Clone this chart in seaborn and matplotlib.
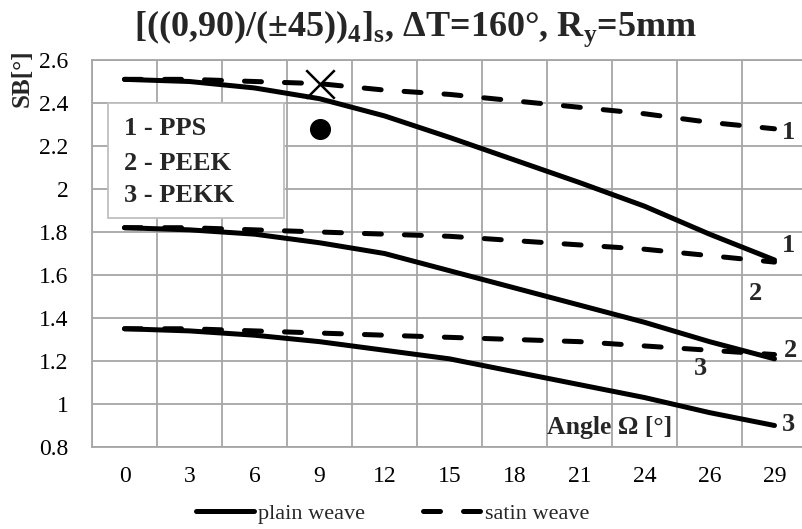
import pandas as pd
import matplotlib
matplotlib.use("Agg")
import matplotlib.pyplot as plt
import seaborn as sns
from matplotlib.lines import Line2D
from matplotlib.patches import Rectangle

# --- data ---
angles = ["0", "3", "6", "9", "12", "15", "18", "21", "24", "26", "29"]
pps_plain = [2.51, 2.50, 2.47, 2.42, 2.34, 2.24, 2.135, 2.03, 1.92, 1.79, 1.67]
pps_satin = [2.51, 2.51, 2.50, 2.49, 2.46, 2.44, 2.41, 2.38, 2.35, 2.31, 2.28]
peek_plain = [1.82, 1.81, 1.79, 1.75, 1.70, 1.62, 1.54, 1.46, 1.38, 1.29, 1.21]
peek_satin = [1.82, 1.82, 1.81, 1.80, 1.79, 1.78, 1.76, 1.74, 1.72, 1.69, 1.66]
pekk_plain = [1.35, 1.34, 1.32, 1.29, 1.25, 1.21, 1.15, 1.09, 1.03, 0.96, 0.90]
pekk_satin = [1.35, 1.35, 1.34, 1.33, 1.32, 1.31, 1.30, 1.29, 1.27, 1.25, 1.23]
materials = ["1 - PPS", "2 - PEEK", "3 - PEKK"]
weaves = ["plain weave", "satin weave"]
cross_pt = ("9", 2.49)
dot_pt = ("9", 2.28)

series = {
    ("1", "plain weave"): pps_plain, ("1", "satin weave"): pps_satin,
    ("2", "plain weave"): peek_plain, ("2", "satin weave"): peek_satin,
    ("3", "plain weave"): pekk_plain, ("3", "satin weave"): pekk_satin,
}
rows = []
for (mat, weave), vals in series.items():
    for i, (a, v) in enumerate(zip(angles, vals)):
        rows.append({"pos": i, "angle": a, "SB": v, "material": mat, "weave": weave})
df = pd.DataFrame(rows)

sns.set_theme(style="white")
plt.rcParams["font.family"] = ["Liberation Serif", "DejaVu Serif"]
plt.rcParams["mathtext.fontset"] = "custom"
plt.rcParams["mathtext.rm"] = "Liberation Serif"
plt.rcParams["mathtext.bf"] = "Liberation Serif:bold"

fig = plt.figure(figsize=(8.02, 5.29), dpi=100)
ax = fig.add_axes([92 / 802, 82 / 529, 715 / 802, 387 / 529])

LW = 3.6
dash = (3.4, 4.6)
sns.lineplot(data=df, x="pos", y="SB", hue="material", style="weave",
             palette=["black"] * 3, dashes={"plain weave": "", "satin weave": dash},
             linewidth=LW, legend=False, ax=ax, zorder=3)
for ln in ax.get_lines():
    ln.set_dash_capstyle("round")
    ln.set_solid_capstyle("round")

# markers
ax.scatter([angles.index(cross_pt[0])], [cross_pt[1]], marker="x", s=420,
           color="black", linewidths=1.8, zorder=5)
ax.scatter([angles.index(dot_pt[0])], [dot_pt[1]], marker="o", s=200,
           color="black", zorder=5)

# axes setup
gray = "#a6a6a6"
ax.set_xlim(-0.5, len(angles) - 0.5)
ax.set_ylim(0.8, 2.6)
ax.set_xticks(range(len(angles)))
ax.set_xticklabels(angles)
ax.set_xticks([i - 0.5 for i in range(len(angles) + 1)], minor=True)
ax.set_yticks([0.8, 1.0, 1.2, 1.4, 1.6, 1.8, 2.0, 2.2, 2.4, 2.6])
ax.set_yticklabels(["0.8", "1", "1.2", "1.4", "1.6", "1.8", "2", "2.2", "2.4", "2.6"])
ax.grid(False)
ax.grid(True, which="minor", axis="x", color=gray, lw=1.3)
ax.grid(True, which="major", axis="y", color=gray, lw=1.3)
ax.tick_params(axis="both", which="both", length=0, labelsize=17, colors="black")
ax.tick_params(axis="x", pad=14)
ax.tick_params(axis="y", pad=17)
for s in ax.spines.values():
    s.set_color(gray)
    s.set_linewidth(1.3)
ax.set_xlabel("")
ax.set_ylabel("")

# material key box
ax.add_patch(Rectangle((-0.26, 1.865), 2.71, 0.535, facecolor="white",
                       edgecolor="#bfbfbf", lw=1.3, zorder=4))
for m, yv in zip(materials, [2.28, 2.12, 1.97]):
    ax.text(0.0, yv, m, fontsize=19, fontweight="bold", va="center", ha="left", zorder=6)

# curve labels
lab_kw = dict(fontsize=19, fontweight="bold", ha="center", va="center", zorder=6)
ax.text(10.22, 2.265, "1", **lab_kw)
ax.text(10.22, 1.735, "1", **lab_kw)
ax.text(9.7, 1.515, "2", **lab_kw)
ax.text(10.25, 1.25, "2", **lab_kw)
ax.text(8.86, 1.165, "3", **lab_kw)
ax.text(10.22, 0.905, "3", **lab_kw)
ax.text(7.46, 0.89, "Angle Ω [°]", fontsize=18.5, fontweight="bold", ha="center",
        va="center", zorder=6)

# y label and title
fig.text(22 / 802, 1 - 78 / 529, "SB[°]", rotation=90, fontsize=18, fontweight="bold",
         ha="center", va="center")
fig.text(416 / 802, 1 - 29 / 529,
         r"[((0,90)/(±45))$_\mathbf{4}$]$_\mathbf{s}$, ΔT=160°, R$_\mathbf{y}$=5mm",
         fontsize=26, fontweight="bold", ha="center", va="center")

# weave legend
handles = [Line2D([], [], color="black", lw=LW, solid_capstyle="round"),
           Line2D([], [], color="black", lw=LW, dashes=dash, dash_capstyle="round")]
fig.legend(handles, weaves, loc="center", bbox_to_anchor=(393 / 802, 1 - 514 / 529),
           ncol=2, frameon=False, fontsize=16, handlelength=2.6, columnspacing=2.6,
           handletextpad=0.2)

fig.savefig("out.png", dpi=100)
